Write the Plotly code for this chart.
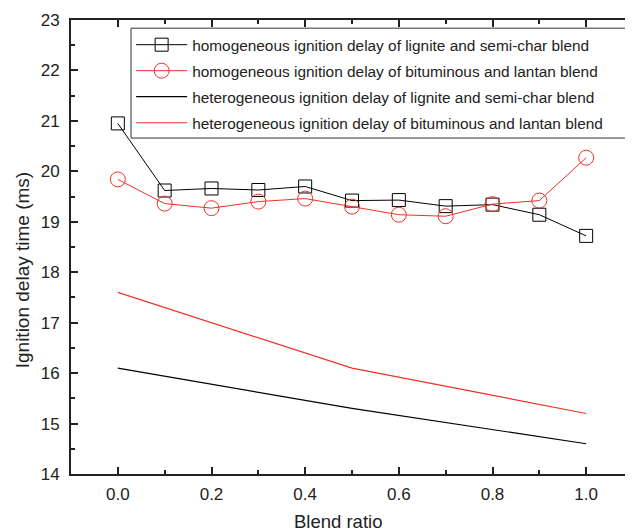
import plotly.graph_objects as go

blend = [0.0, 0.1, 0.2, 0.3, 0.4, 0.5, 0.6, 0.7, 0.8, 0.9, 1.0]
homo_lignite = [20.95, 19.62, 19.66, 19.63, 19.70, 19.42, 19.43, 19.31, 19.34, 19.14, 18.72]
homo_bitum = [19.84, 19.36, 19.27, 19.40, 19.46, 19.30, 19.14, 19.11, 19.35, 19.42, 20.27]
het_x = [0.0, 0.5, 1.0]
het_lignite = [16.1, 15.3, 14.6]
het_bitum = [17.6, 16.1, 15.2]

names = [
    "homogeneous ignition delay of lignite and semi-char blend",
    "homogeneous ignition delay of bituminous and lantan blend",
    "heterogeneous ignition delay of lignite and semi-char blend",
    "heterogeneous ignition delay of bituminous and lantan blend",
]
RED = "#ee3124"
TXT = "#222"

fig = go.Figure()
fig.add_trace(go.Scatter(x=blend, y=homo_lignite, mode="lines+markers", name=names[0], legendgroup="a",
                         line=dict(color="black", width=1),
                         marker=dict(symbol="square-open", size=13, color="black", line=dict(width=1))))
fig.add_trace(go.Scatter(x=blend, y=homo_bitum, mode="lines+markers", name=names[1], legendgroup="b",
                         line=dict(color=RED, width=1),
                         marker=dict(symbol="circle-open", size=15, color=RED, line=dict(width=1))))
fig.add_trace(go.Scatter(x=het_x, y=het_lignite, mode="lines", name=names[2], legendgroup="c",
                         line=dict(color="black", width=1.2)))
fig.add_trace(go.Scatter(x=het_x, y=het_bitum, mode="lines", name=names[3], legendgroup="d",
                         line=dict(color=RED, width=1.2)))

font = "Liberation Sans, Arial, sans-serif"
fig.update_layout(
    width=625, height=524,
    margin=dict(l=63, r=0, t=12, b=58),
    plot_bgcolor="white", paper_bgcolor="white",
    font=dict(family=font, size=16, color=TXT),
    showlegend=True,
    legend=dict(x=0.107, y=0.982, xanchor="left", yanchor="top",
                borderwidth=0, bgcolor="rgba(255,255,255,0)",
                font=dict(size=15.4, color=TXT), tracegroupgap=3, itemwidth=51),
    shapes=[dict(type="rect", xref="paper", yref="paper", x0=0.1068, x1=0.993, y0=0.740, y1=0.982,
                 line=dict(color="#333", width=1), layer="above")],
    xaxis=dict(range=[-0.1, 1.1], tickvals=[0, 0.2, 0.4, 0.6, 0.8, 1.0],
               ticktext=["0.0", "0.2", "0.4", "0.6", "0.8", "1.0"],
               ticks="inside", ticklen=7, tickwidth=1.5, tickcolor=TXT,
               minor=dict(tickvals=[0.1, 0.3, 0.5, 0.7, 0.9], ticks="inside", ticklen=4, tickcolor=TXT, tickwidth=1.5),
               showline=True, linecolor=TXT, linewidth=2, mirror="ticks",
               showgrid=False, zeroline=False, automargin=False,
               ticklabelstandoff=4,
               tickfont=dict(size=17)),
    yaxis=dict(range=[14, 23], dtick=1,
               ticks="inside", ticklen=7, tickwidth=1.5, tickcolor=TXT,
               minor=dict(dtick=0.5, ticks="inside", ticklen=4, tickcolor=TXT, tickwidth=1.5),
               showline=True, linecolor=TXT, linewidth=2,
               showgrid=False, zeroline=False, automargin=False,
               ticklabelstandoff=6,
               tickfont=dict(size=17)),
    annotations=[
        dict(text="Blend ratio", xref="paper", yref="paper", x=0.475, y=-0.077,
             xanchor="center", yanchor="top", showarrow=False, font=dict(size=18.5, color=TXT)),
        dict(text="Ignition delay time (ms)", xref="paper", yref="paper", x=-0.087, y=0.449,
             xanchor="center", yanchor="middle", textangle=-90, showarrow=False,
             font=dict(size=19, color=TXT)),
    ],
)
fig.write_html("out.html")
